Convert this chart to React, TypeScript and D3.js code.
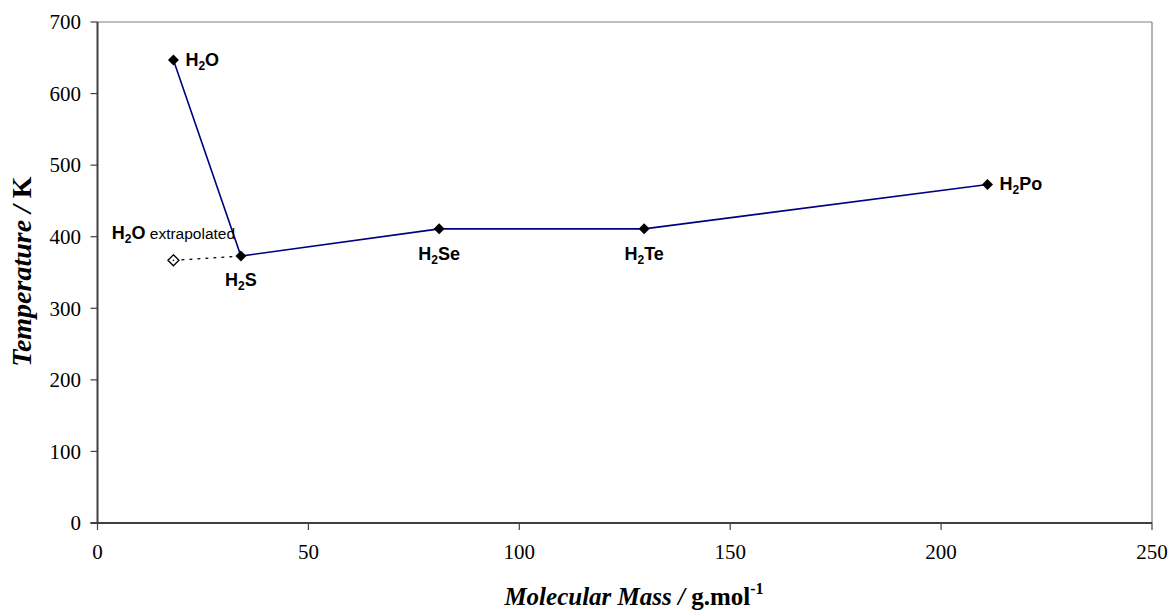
import React from "react";
import * as d3 from "d3";

// Critical temperatures of the group 16 hydrides
const elements = ["O", "S", "Se", "Te", "Po"];
const molarMasses = [18, 34, 81, 129.6, 211];
const criticalTemps = [647, 373, 411, 411, 473];

// Water value extrapolated from the trend of the heavier hydrides
const extrapolatedMass = 18;
const extrapolatedTemp = 367;

const xTicks = [0, 50, 100, 150, 200, 250];
const yTicks = [0, 100, 200, 300, 400, 500, 600, 700];

const W = 1171;
const H = 613;

const x = d3.scaleLinear().domain([0, 250]).range([97.5, 1152]);
const y = d3.scaleLinear().domain([0, 700]).range([523, 22]);

const serif = "'Liberation Serif', 'Times New Roman', serif";
const sans = "'Liberation Sans', Arial, sans-serif";

function diamond(cx: number, cy: number, r: number) {
  return `M${cx},${cy - r}L${cx + r},${cy}L${cx},${cy + r}L${cx - r},${cy}Z`;
}

function Formula({
  el,
  px,
  py,
  anchor,
}: {
  el: string;
  px: number;
  py: number;
  anchor: "start" | "middle";
}) {
  return (
    <text
      x={px}
      y={py}
      textAnchor={anchor}
      fontFamily={sans}
      fontWeight="bold"
      fontSize={18}
      fill="#000"
    >
      H
      <tspan fontSize={12} dy={4}>
        2
      </tspan>
      <tspan dy={-4}>{el}</tspan>
    </text>
  );
}

export default function App() {
  const line = d3
    .line<number>()
    .x((_, i) => x(molarMasses[i]))
    .y((t) => y(t));

  // label placement per point: [dx, dy, anchor]
  const placement: [number, number, "start" | "middle"][] = [
    [12, 6, "start"],
    [0, 30, "middle"],
    [0, 31, "middle"],
    [0, 31, "middle"],
    [12, 6, "start"],
  ];

  const ex = x(extrapolatedMass);
  const ey = y(extrapolatedTemp);

  return (
    <svg
      width={W}
      height={H}
      style={{ position: "absolute", left: 0, top: 0, background: "#fff" }}
    >
      {/* plot frame: top and right borders */}
      <line x1={x(0)} x2={x(250)} y1={y(700)} y2={y(700)} stroke="#808080" strokeWidth={1.2} />
      <line x1={x(250)} x2={x(250)} y1={y(700)} y2={y(0)} stroke="#808080" strokeWidth={1.2} />

      {/* y axis */}
      <line x1={x(0)} x2={x(0)} y1={y(700)} y2={y(0)} stroke="#404040" strokeWidth={2} />
      {yTicks.map((t) => (
        <g key={"y" + t}>
          <line x1={x(0) - 7} x2={x(0)} y1={y(t)} y2={y(t)} stroke="#404040" strokeWidth={1.2} />
          <text
            x={81}
            y={y(t)}
            dy="0.35em"
            textAnchor="end"
            fontFamily={serif}
            fontSize={21}
            fill="#000"
          >
            {t}
          </text>
        </g>
      ))}

      {/* x axis */}
      <line x1={x(0) - 7} x2={x(250)} y1={y(0)} y2={y(0)} stroke="#404040" strokeWidth={2} />
      {xTicks.map((t) => (
        <g key={"x" + t}>
          <line x1={x(t)} x2={x(t)} y1={y(0)} y2={y(0) + 7} stroke="#404040" strokeWidth={1.2} />
          <text
            x={x(t)}
            y={559}
            textAnchor="middle"
            fontFamily={serif}
            fontSize={21}
            fill="#000"
          >
            {t}
          </text>
        </g>
      ))}

      {/* axis titles */}
      <text
        x={634}
        y={605}
        textAnchor="middle"
        fontFamily={serif}
        fontWeight="bold"
        fontSize={25}
        fill="#000"
      >
        <tspan fontStyle="italic">Molecular Mass / </tspan>
        <tspan>g.mol</tspan>
        <tspan fontSize={16} dy={-11}>
          -1
        </tspan>
      </text>
      <text
        transform={`translate(31,${(y(0) + y(700)) / 2 - 1}) rotate(-90)`}
        textAnchor="middle"
        fontFamily={serif}
        fontWeight="bold"
        fontSize={28}
        fill="#000"
      >
        <tspan fontStyle="italic">Temperature / </tspan>
        <tspan>K</tspan>
      </text>

      {/* extrapolation guide */}
      <line
        x1={ex}
        y1={ey}
        x2={x(molarMasses[1])}
        y2={y(criticalTemps[1])}
        stroke="#000"
        strokeWidth={1.2}
        strokeDasharray="3,5"
      />

      {/* measured series */}
      <path d={line(criticalTemps) || ""} fill="none" stroke="#000080" strokeWidth={1.6} />
      {criticalTemps.map((t, i) => (
        <path key={"m" + i} d={diamond(x(molarMasses[i]), y(t), 5.5)} fill="#000" />
      ))}

      {/* extrapolated point */}
      <path d={diamond(ex, ey, 5.5)} fill="#fff" stroke="#000" strokeWidth={1.3} />
      <circle cx={ex} cy={ey} r={0.8} fill="#000" />

      {/* point labels */}
      {criticalTemps.map((t, i) => (
        <Formula
          key={"l" + i}
          el={elements[i]}
          px={x(molarMasses[i]) + placement[i][0]}
          py={y(t) + placement[i][1]}
          anchor={placement[i][2]}
        />
      ))}
      <text
        x={ex}
        y={ey - 21}
        textAnchor="middle"
        fontFamily={sans}
        fill="#000"
        fontSize={18}
      >
        <tspan fontWeight="bold">H</tspan>
        <tspan fontWeight="bold" fontSize={12} dy={4}>
          2
        </tspan>
        <tspan fontWeight="bold" dy={-4}>
          O
        </tspan>
        <tspan fontSize={15.5}> extrapolated</tspan>
      </text>
    </svg>
  );
}
